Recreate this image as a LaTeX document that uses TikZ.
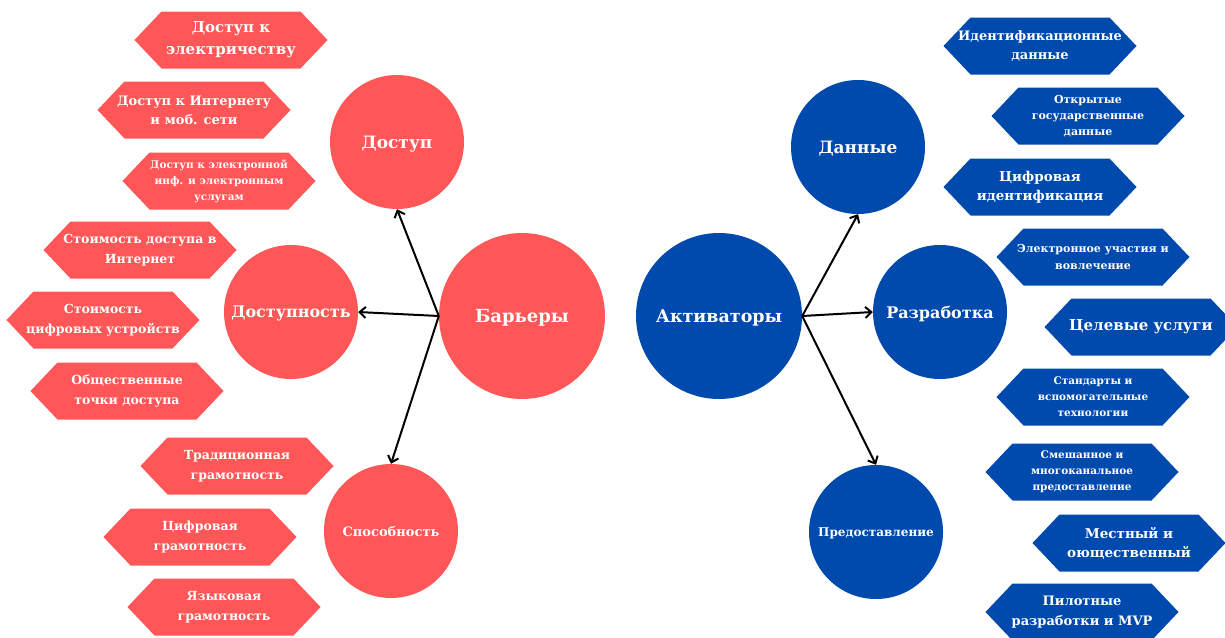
\documentclass[tikz,border=0pt]{standalone}
\usepackage{fontspec}
\setmainfont{DejaVu Serif}
\usetikzlibrary{arrows.meta}
\definecolor{cred}{HTML}{FF5757}
\definecolor{cblue}{HTML}{004AAD}
\tikzset{
 fs/.style 2 args={font=\bfseries\fontsize{#1}{#2}\selectfont},
 hexbox/.style={rectangle, minimum width=193pt, minimum height=57pt, inner sep=0pt,
   text=white, align=center, draw=none, fill=white,
   path picture={\fill[#1]
     (path picture bounding box.west)
     -- ([xshift=27pt]path picture bounding box.north west)
     -- ([xshift=-27pt]path picture bounding box.north east)
     -- (path picture bounding box.east)
     -- ([xshift=-27pt]path picture bounding box.south east)
     -- ([xshift=27pt]path picture bounding box.south west) -- cycle;}},
 redhex/.style={hexbox=cred},
 bluehex/.style={hexbox=cblue},
 bigc/.style={circle, minimum size=166pt, inner sep=0pt, text=white, text depth=0pt},
 smallc/.style={circle, minimum size=134pt, inner sep=0pt, text=white, text depth=0pt},
 arr/.style={-{Straight Barb[length=6pt,width=11pt]}, line width=2pt, black},
}
\begin{document}
\begin{tikzpicture}[x=1pt,y=-1pt]
\useasboundingbox (0,0) rectangle (1225,637);
% left hexagons
\node[redhex, fs={15}{22}] (h1) at (231,40) {Доступ к\\электричеству};
\node[redhex, fs={13}{19}] (h2) at (194,110) {Доступ к Интернету\\и моб. сети};
\node[redhex, fs={10.5}{16}] (h3) at (219,181) {Доступ к электронной\\инф. и электронным\\услугам};
\node[redhex, fs={12.5}{20}] (h4) at (140,250) {Стоимость доступа в\\Интернет};
\node[redhex, fs={12.5}{20}] (h5) at (103,320) {Стоимость\\цифровых устройств};
\node[redhex, fs={12.5}{20}] (h6) at (127,391) {Общественные\\точки доступа};
\node[redhex, fs={12.5}{20}] (h7) at (237,466) {Традиционная\\грамотность};
\node[redhex, fs={12.5}{20}] (h8) at (200,537) {Цифровая\\грамотность};
\node[redhex, fs={12.5}{20}] (h9) at (224,607) {Языковая\\грамотность};
% right hexagons
\node[bluehex, fs={13}{19}] (b1) at (1040,46) {Идентификационные\\данные};
\node[bluehex, fs={11}{16}] (b2) at (1088,116) {Открытые\\государственные\\данные};
\node[bluehex, fs={13.5}{19}] (b3) at (1040,187) {Цифровая\\идентификация};
\node[bluehex, fs={11}{17}] (b4) at (1093,257) {Электронное участия и\\вовлечение};
\node[bluehex, fs={15}{20}] (b5) at (1141,327) {Целевые услуги};
\node[bluehex, fs={10.5}{16}] (b6) at (1093,397) {Стандарты и\\вспомогательные\\технологии};
\node[bluehex, fs={10.5}{16}] (b7) at (1082,472) {Смешанное и\\многоканальное\\предоставление};
\node[bluehex, fs={13.5}{19}] (b8) at (1129,543) {Местный и\\оющественный};
\node[bluehex, fs={13}{20}] (b9) at (1082,612) {Пилотные\\разработки и MVP};
% central circles
\node[bigc, fill=cred, fs={18}{22}] (bar) at (522,316) {Барьеры};
\node[bigc, fill=cblue, fs={17.5}{22}] (akt) at (719,316) {Активаторы};
% left small circles
\node[smallc, fill=cred, fs={17}{20}] (dost) at (397,142) {Доступ};
\node[smallc, fill=cred, fs={16}{20}] (dostn) at (291,312) {Доступность};
\node[smallc, fill=cred, fs={13}{16}] (spos) at (391,531) {Способность};
% right small circles
\node[smallc, fill=cblue, fs={17}{20}] (dan) at (858,147) {Данные};
\node[smallc, fill=cblue, fs={16}{20}] (razr) at (940,312) {Разработка};
\node[smallc, fill=cblue, fs={12}{16}] (pred) at (876,532) {Предоставление};
% arrows
\draw[arr] (bar.west) -- (dost.south);
\draw[arr] (bar.west) -- (dostn.east);
\draw[arr] (bar.west) -- (spos.north);
\draw[arr] (akt.east) -- (dan.south);
\draw[arr] (akt.east) -- (razr.west);
\draw[arr] (akt.east) -- (pred.north);
\end{tikzpicture}
\end{document}
